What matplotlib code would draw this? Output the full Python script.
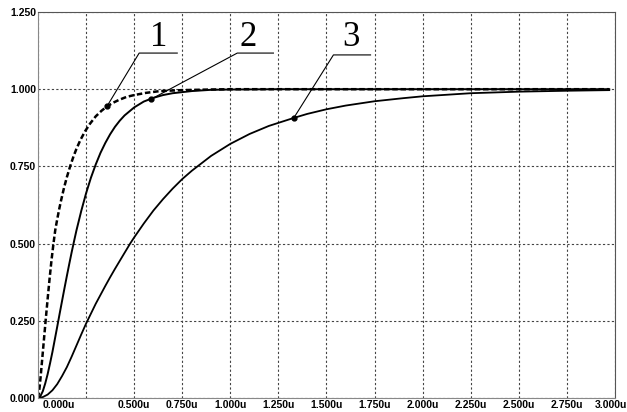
import matplotlib
matplotlib.use("Agg")
from matplotlib import pyplot as plt
from matplotlib import transforms

# time axis in microseconds, response normalised to 1
t1 = [0, 0.005, 0.01, 0.015, 0.02, 0.03, 0.04, 0.05, 0.06, 0.07, 0.08, 0.09, 0.1,
      0.11, 0.12, 0.135, 0.15, 0.167, 0.185, 0.2, 0.22, 0.245, 0.27, 0.3, 0.33,
      0.358, 0.39, 0.42, 0.46, 0.5, 0.56, 0.635, 0.75, 0.9, 1.0, 1.5, 2.0, 2.5, 2.97]
y1 = [0, 0.018, 0.045, 0.078, 0.113, 0.183, 0.253, 0.32, 0.385, 0.445, 0.498,
      0.545, 0.579, 0.611, 0.640, 0.680, 0.715, 0.75, 0.783, 0.807, 0.835, 0.864,
      0.888, 0.912, 0.930, 0.944, 0.956, 0.965, 0.975, 0.981, 0.988, 0.994, 0.997,
      0.999, 1.0, 1.0, 1.0, 1.0, 1.0]

t2 = [0, 0.0125, 0.025, 0.0375, 0.05, 0.0625, 0.075, 0.0875, 0.1, 0.1125, 0.125,
      0.1375, 0.15, 0.1625, 0.175, 0.1875, 0.2, 0.225, 0.25, 0.275, 0.3, 0.325,
      0.35, 0.375, 0.4, 0.425, 0.45, 0.5, 0.55, 0.6, 0.65, 0.7, 0.8, 0.9, 1.0,
      1.25, 1.5, 2.0, 2.5, 2.97]
y2 = [0, 0.006, 0.022, 0.047, 0.077, 0.112, 0.149, 0.19, 0.231, 0.273, 0.314,
      0.355, 0.395, 0.434, 0.472, 0.508, 0.543, 0.606, 0.663, 0.713, 0.756, 0.794,
      0.826, 0.854, 0.878, 0.898, 0.915, 0.941, 0.960, 0.972, 0.981, 0.987, 0.994,
      0.998, 0.999, 1.0, 1.0, 1.0, 1.0, 1.0]

t3 = [0, 0.025, 0.05, 0.075, 0.1, 0.125, 0.15, 0.175, 0.2, 0.225, 0.25, 0.275,
      0.3, 0.325, 0.35, 0.375, 0.4, 0.425, 0.45, 0.48, 0.5, 0.55, 0.6, 0.65, 0.7,
      0.75, 0.8, 0.9, 1.0, 1.1, 1.2, 1.33, 1.4, 1.5, 1.6, 1.75, 1.9, 2.0, 2.25,
      2.5, 2.75, 2.97]
y3 = [0, 0.003, 0.011, 0.025, 0.045, 0.071, 0.100, 0.134, 0.170, 0.206, 0.241,
      0.273, 0.305, 0.334, 0.363, 0.391, 0.418, 0.444, 0.470, 0.501, 0.520, 0.565,
      0.607, 0.644, 0.678, 0.709, 0.736, 0.784, 0.823, 0.855, 0.881, 0.907, 0.920,
      0.935, 0.947, 0.961, 0.971, 0.977, 0.987, 0.992, 0.995, 0.997]

x_ticks = [0, 0.25, 0.5, 0.75, 1.0, 1.25, 1.5, 1.75, 2.0, 2.25, 2.5, 2.75, 3.0]
x_labels = ["0.000u", "", "0.500u", "0.750u", "1.000u", "1.250u", "1.500u",
            "1.750u", "2.000u", "2.250u", "2.500u", "2.750u", "3.000u"]
y_ticks = [0, 0.25, 0.5, 0.75, 1.0, 1.25]
y_labels = ["0.000", "0.250", "0.500", "0.750", "1.000", "1.250"]

# curve labels: number, point on the curve, text position, leader shelf
marks = [
    ("1", (0.358, 0.944), (0.625, 1.169), (0.526, 0.724, 1.117)),
    ("2", (0.589, 0.968), (1.094, 1.169), (1.036, 1.224, 1.117)),
    ("3", (1.33, 0.907), (1.625, 1.166), (1.536, 1.729, 1.111)),
]

fig = plt.figure(figsize=(6.27, 4.12), dpi=100)
ax = fig.add_axes([38 / 627, 14 / 412, 577 / 627, 386 / 412])

ax.plot(t1, y1, color="black", lw=1.8, dashes=(2.2, 1.1))
ax.plot(t2, y2, color="black", lw=1.4)
ax.plot(t3, y3, color="black", lw=1.3)

for num, (px, py), (tx, ty), (sx0, sx1, sy) in marks:
    ax.plot([px], [py], "o", color="black", ms=3.5)
    ax.plot([px, sx0, sx1], [py, sy, sy], color="black", lw=0.8)
    ax.text(tx, ty, num, ha="center", va="center", fontsize=25,
            family="Liberation Serif")

ax.set_xlim(0, 3.0)
ax.set_ylim(0, 1.25)
ax.set_xticks(x_ticks)
ax.set_xticklabels(x_labels)
ax.set_yticks(y_ticks)
ax.set_yticklabels(y_labels)
ax.tick_params(length=0, labelsize=7.5, pad=1.5)
for lab in ax.get_xticklabels() + ax.get_yticklabels():
    lab.set_family("Liberation Sans")
    lab.set_weight("bold")

xl = ax.get_xticklabels()
xl[0].set_ha("left")
xl[0].set_transform(xl[0].get_transform() +
                    transforms.ScaledTranslation(5 / 100, 0, fig.dpi_scale_trans))
xl[-1].set_transform(xl[-1].get_transform() +
                     transforms.ScaledTranslation(-4 / 100, 0, fig.dpi_scale_trans))

ax.grid(True, color="#444444", lw=0.8, linestyle=(0, (2, 2)))
for side in ["left", "bottom"]:
    ax.spines[side].set_color("#888888")
for side in ["top", "right"]:
    ax.spines[side].set_color("#555555")

fig.savefig("out.png", dpi=100)
